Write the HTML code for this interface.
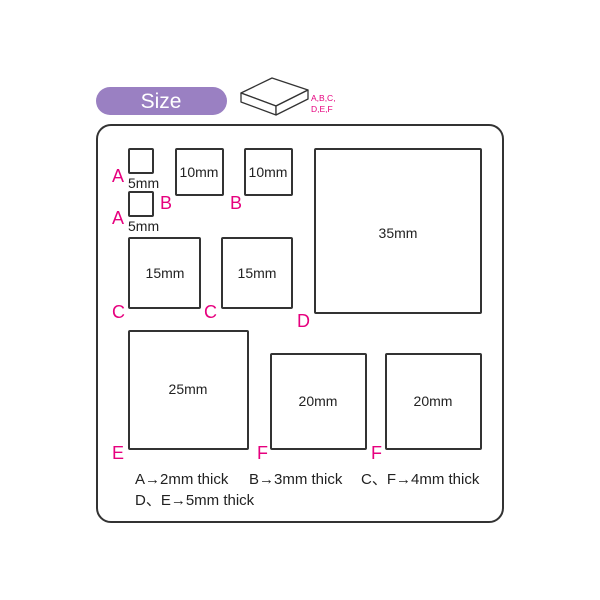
<!DOCTYPE html>
<html><head><style>body{margin:0;background:#fff}svg{display:block}</style></head><body>
<svg width="600" height="600" viewBox="0 0 600 600" xmlns="http://www.w3.org/2000/svg" font-family="'Liberation Sans', sans-serif">
<rect x="96" y="87" width="131" height="28" rx="14" fill="#9a80c2"/>
<text x="161" y="108" font-size="21" fill="#fff" text-anchor="middle">Size</text>
<g fill="#fff" stroke="#333" stroke-width="1.3" stroke-linejoin="round">
<polygon points="241,93 272,78 308,90 276,106"/>
<polygon points="241,93 276,106 276,115 241,102"/>
<polygon points="276,106 308,90 308,99 276,115"/>
</g>
<text x="311" y="101" font-size="8.5" fill="#e6007e">A,B,C,</text>
<text x="311" y="112" font-size="8.5" fill="#e6007e">D,E,F</text>
<rect x="97" y="125" width="406" height="397" rx="14" fill="none" stroke="#333" stroke-width="2"/>
<g fill="none" stroke="#333" stroke-width="2">
<rect x="129" y="149" width="24" height="24" rx="1"/>
<rect x="129" y="192" width="24" height="24" rx="1"/>
<rect x="176" y="149" width="47" height="46" rx="1"/>
<rect x="245" y="149" width="47" height="46" rx="1"/>
<rect x="129" y="238" width="71" height="70" rx="1"/>
<rect x="222" y="238" width="70" height="70" rx="1"/>
<rect x="315" y="149" width="166" height="164" rx="1"/>
<rect x="129" y="331" width="119" height="118" rx="1"/>
<rect x="271" y="354" width="95" height="95" rx="1"/>
<rect x="386" y="354" width="95" height="95" rx="1"/>
</g>
<g font-size="14" fill="#222" text-anchor="middle">
<text x="128" y="188" text-anchor="start">5mm</text>
<text x="128" y="231" text-anchor="start">5mm</text>
<text x="199" y="177">10mm</text>
<text x="268" y="177">10mm</text>
<text x="165" y="278">15mm</text>
<text x="257" y="278">15mm</text>
<text x="398" y="238">35mm</text>
<text x="188" y="394">25mm</text>
<text x="318" y="406">20mm</text>
<text x="433" y="406">20mm</text>
</g>
<g font-size="18" fill="#e6007e">
<text x="112" y="182">A</text>
<text x="112" y="224">A</text>
<text x="160" y="209">B</text>
<text x="230" y="209">B</text>
<text x="112" y="318">C</text>
<text x="204" y="318">C</text>
<text x="297" y="327">D</text>
<text x="112" y="459">E</text>
<text x="257" y="459">F</text>
<text x="371" y="459">F</text>
</g>
<g font-size="15" fill="#222">
<text x="135" y="484">A→2mm thick</text>
<text x="249" y="484">B→3mm thick</text>
<text x="361" y="484">C、F→4mm thick</text>
<text x="135" y="505">D、E→5mm thick</text>
</g>
</svg>
</body></html>
